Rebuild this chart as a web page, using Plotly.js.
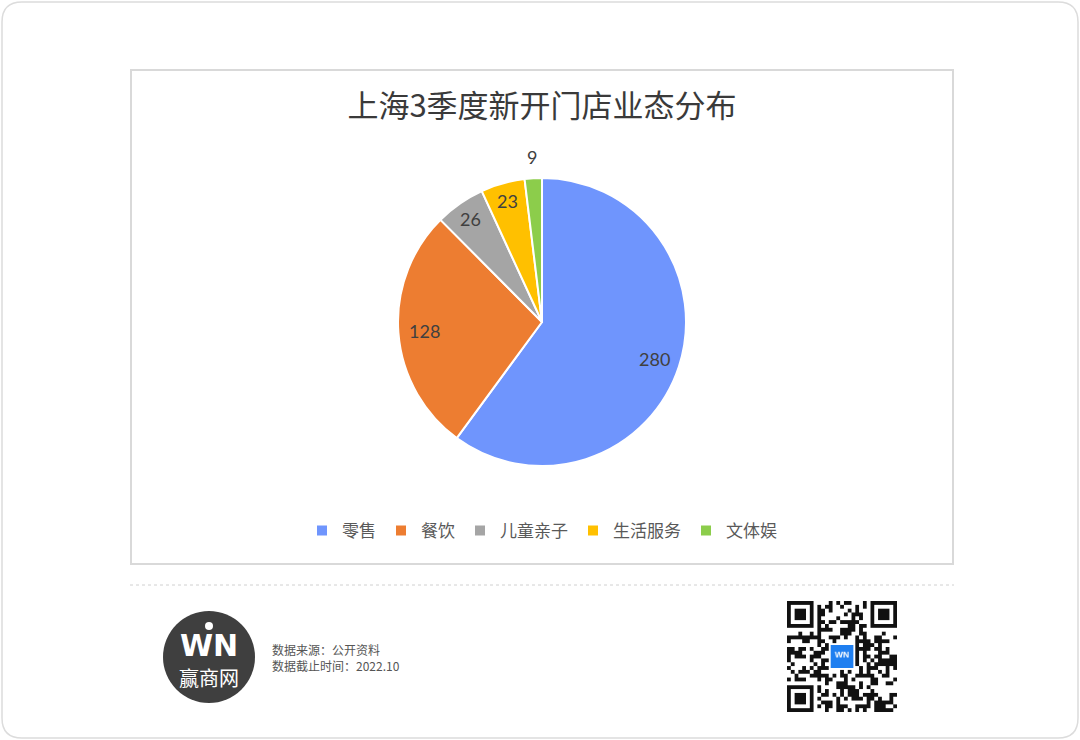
<!DOCTYPE html>
<html><head><meta charset="utf-8">
<script src="https://cdn.plot.ly/plotly-3.0.1.min.js"></script>
<style>html,body{margin:0;padding:0;background:#fff}#chart{width:1080px;height:740px}</style>
</head><body><div id="chart"></div>
<script>
// ---- data ----
const categories = ['零售', '餐饮', '儿童亲子', '生活服务', '文体娱'];
const storeCounts = [280, 128, 26, 23, 9];
const sliceColors = ['#6f95fd', '#ed7d31', '#a5a5a5', '#ffc000', '#8ccd4b'];
const chartTitle = '上海3季度新开门店业态分布';
const sourceLines = ['数据来源：公开资料', '数据截止时间：2022.10'];
const brandName = '赢商网';

const W = 1080, H = 740;
const px = x => x / W;
const py = y => 1 - y / H;
const CJK = '"Noto Sans CJK SC", "Noto Sans", sans-serif';
const NUMFONT = 'Lato, "Liberation Sans", sans-serif';

// pie geometry (pixels)
const PIE_CX = 542, PIE_CY = 322, PIE_R = 144;

// decorative QR-like image (not data)
function qrImage() {
  const n = 29, m = 4;
  const c = document.createElement('canvas');
  c.width = n * m; c.height = n * m;
  const g = c.getContext('2d');
  g.fillStyle = '#fff'; g.fillRect(0, 0, c.width, c.height);
  g.fillStyle = '#111';
  let s = 12345;
  const nxt = () => { s = (s * 1103515245 + 12345) & 0x7fffffff; return s / 0x7fffffff; };
  for (let i = 0; i < n; i++) for (let j = 0; j < n; j++) {
    if (nxt() < 0.5) g.fillRect(j * m, i * m, m, m);
  }
  const finder = (x, y) => {
    g.fillStyle = '#fff'; g.fillRect((x - 1) * m, (y - 1) * m, 9 * m, 9 * m);
    g.fillStyle = '#111'; g.fillRect(x * m, y * m, 7 * m, 7 * m);
    g.fillStyle = '#fff'; g.fillRect((x + 1) * m, (y + 1) * m, 5 * m, 5 * m);
    g.fillStyle = '#111'; g.fillRect((x + 2) * m, (y + 2) * m, 3 * m, 3 * m);
  };
  finder(0, 0); finder(n - 7, 0); finder(0, n - 7);
  g.fillStyle = '#fff'; g.fillRect(11 * m, 11 * m, 7 * m, 7 * m);
  g.fillStyle = '#1f7ff0'; g.fillRect(11.5 * m, 11.5 * m, 6 * m, 6 * m);
  g.fillStyle = '#fff'; g.font = 'bold 9px sans-serif'; g.textAlign = 'center';
  g.fillText('WN', 14.5 * m, 14.8 * m);
  return c.toDataURL();
}

// value labels placed like the source (Excel best-fit), computed from the data
function valueLabels() {
  const total = storeCounts.reduce((a, b) => a + b, 0);
  let cum = 0;
  return storeCounts.map((v, i) => {
    const mid = (cum + v / 2) / total * 2 * Math.PI; // clockwise from 12 o'clock
    cum += v;
    const frac = v / total;
    const rr = frac < 0.03 ? 1.15 : (frac < 0.1 ? 0.87 : 0.82);
    const x = PIE_CX + rr * PIE_R * Math.sin(mid);
    const y = PIE_CY - rr * PIE_R * Math.cos(mid);
    return { text: String(v), xref: 'paper', yref: 'paper', x: px(x), y: py(y),
      xanchor: 'center', yanchor: 'middle', showarrow: false,
      font: { family: NUMFONT, size: 18, color: '#404040' } };
  });
}

const trace = {
  type: 'pie',
  labels: categories,
  values: storeCounts,
  sort: false,
  direction: 'clockwise',
  rotation: 0,
  marker: { colors: sliceColors, line: { color: '#ffffff', width: 2 } },
  textinfo: 'none',
  domain: { x: [px(PIE_CX - PIE_R), px(PIE_CX + PIE_R)], y: [py(PIE_CY + PIE_R), py(PIE_CY - PIE_R)] },
  hoverinfo: 'label+value',
  showlegend: true
};

const layout = {
  width: W, height: H,
  margin: { l: 0, r: 0, t: 0, b: 0 },
  paper_bgcolor: '#ffffff',
  title: {
    text: chartTitle, xref: 'paper', yref: 'paper',
    x: px(542), y: py(106), xanchor: 'center', yanchor: 'middle',
    font: { family: CJK, size: 31, color: '#3a3a3a' }
  },
  legend: {
    orientation: 'h', xref: 'paper', yref: 'paper',
    x: px(542), y: py(531), xanchor: 'center', yanchor: 'middle',
    font: { family: CJK, size: 17, color: '#595959' },
    itemwidth: 30, traceorder: 'normal'
  },
  shapes: [
    { type: 'path', xref: 'paper', yref: 'paper',
      path: `M ${px(22)},${py(2)} L ${px(1058)},${py(2)} Q ${px(1078)},${py(2)} ${px(1078)},${py(22)} L ${px(1078)},${py(718)} Q ${px(1078)},${py(738)} ${px(1058)},${py(738)} L ${px(22)},${py(738)} Q ${px(2)},${py(738)} ${px(2)},${py(718)} L ${px(2)},${py(22)} Q ${px(2)},${py(2)} ${px(22)},${py(2)} Z`,
      line: { color: '#dcdcdc', width: 1.5 }, fillcolor: 'rgba(0,0,0,0)', layer: 'below' },
    { type: 'rect', xref: 'paper', yref: 'paper',
      x0: px(131), x1: px(953), y0: py(564), y1: py(70),
      line: { color: '#d9d9d9', width: 2 }, fillcolor: 'rgba(0,0,0,0)', layer: 'below' },
    { type: 'line', xref: 'paper', yref: 'paper',
      x0: px(130), x1: px(954), y0: py(585), y1: py(585),
      line: { color: '#d0d0d0', width: 1, dash: 'dot' } },
    { type: 'circle', xref: 'paper', yref: 'paper',
      x0: px(163), x1: px(255), y0: py(703), y1: py(611),
      line: { width: 0 }, fillcolor: '#3f3f3f' },
    { type: 'circle', xref: 'paper', yref: 'paper',
      x0: px(205), x1: px(213), y0: py(630), y1: py(622),
      line: { width: 0 }, fillcolor: '#ffffff' }
  ],
  annotations: valueLabels().concat([
    { text: '<b>WN</b>', xref: 'paper', yref: 'paper', x: px(209), y: py(645),
      xanchor: 'center', yanchor: 'middle', showarrow: false,
      font: { family: '"DejaVu Sans", sans-serif', size: 30, color: '#ffffff' } },
    { text: brandName, xref: 'paper', yref: 'paper', x: px(209), y: py(677),
      xanchor: 'center', yanchor: 'middle', showarrow: false,
      font: { family: CJK, size: 20, color: '#ffffff' } },
    { text: sourceLines[0], xref: 'paper', yref: 'paper', x: px(270), y: py(649),
      xanchor: 'left', yanchor: 'middle', showarrow: false,
      font: { family: CJK, size: 12, color: '#555555' } },
    { text: sourceLines[1], xref: 'paper', yref: 'paper', x: px(270), y: py(665),
      xanchor: 'left', yanchor: 'middle', showarrow: false,
      font: { family: CJK, size: 12, color: '#555555' } }
  ]),
  images: [
    { source: qrImage(), xref: 'paper', yref: 'paper',
      x: px(787), y: py(601), sizex: 110 / W, sizey: 111 / H,
      xanchor: 'left', yanchor: 'top', sizing: 'stretch', layer: 'above' }
  ]
};

Plotly.newPlot('chart', [trace], layout, { displayModeBar: false, staticPlot: true });
</script>
</body></html>
